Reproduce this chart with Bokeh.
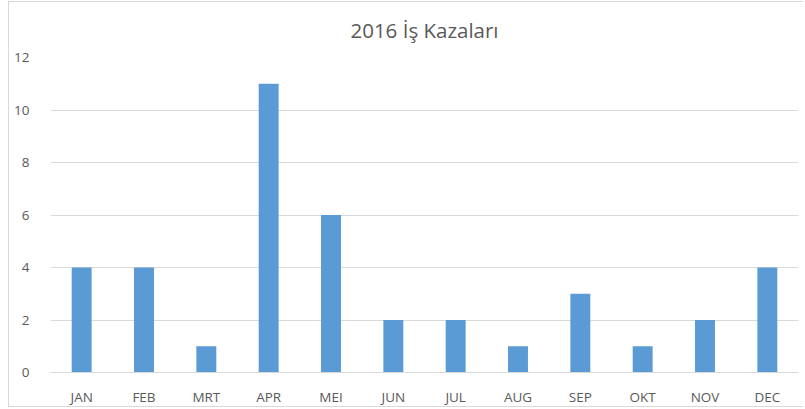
from bokeh.plotting import figure
from bokeh.models import Range1d, FixedTicker, InlineStyleSheet
from bokeh.embed import file_html
from bokeh.resources import INLINE

months = ["JAN", "FEB", "MRT", "APR", "MEI", "JUN", "JUL", "AUG", "SEP", "OKT", "NOV", "DEC"]
counts = [4, 4, 1, 11, 6, 2, 2, 1, 3, 1, 2, 4]
y_ticks = [0, 2, 4, 6, 8, 10, 12]

FONT = "Open Sans"
TXT = "#595959"

p = figure(x_range=months, width=803, height=408, output_backend="svg",
           toolbar_location=None, title="2016 İş Kazaları",
           min_border_left=50, min_border_right=5, min_border_top=56, min_border_bottom=36)
p.y_range = Range1d(0, 12)
p.x_range.range_padding = 0

p.vbar(x=months, top=counts, width=0.32, color="#5B9BD5", line_color=None)

p.title.align = "center"
p.title.text_font = FONT
p.title.text_font_size = "20.5px"
p.title.text_font_style = "normal"
p.title.text_color = TXT
p.title.standoff = 27

p.outline_line_color = None
p.xgrid.grid_line_color = None
p.ygrid.grid_line_color = "#D9D9D9"
p.ygrid.ticker = FixedTicker(ticks=y_ticks)

p.yaxis.ticker = FixedTicker(ticks=y_ticks)
p.yaxis.axis_line_color = None
p.yaxis.major_tick_line_color = None
p.yaxis.minor_tick_line_color = None
p.yaxis.major_label_standoff = 15
p.xaxis.axis_line_color = "#D9D9D9"
p.xaxis.major_tick_line_color = None
p.xaxis.minor_tick_line_color = None
p.xaxis.major_label_standoff = 9
for ax in (p.xaxis[0], p.yaxis[0]):
    ax.major_label_text_font = FONT
    ax.major_label_text_font_size = "13.5px"
    ax.major_label_text_color = TXT

p.stylesheets = [InlineStyleSheet(css=(
    ":host::after { content: ''; position: absolute; left: 8px; top: 1px; right: 0px; bottom: 1px;"
    " border: 1px solid #D9D9D9; border-right: none; pointer-events: none; box-sizing: border-box; }"
))]

open("out.html", "w").write(file_html(p, INLINE))
